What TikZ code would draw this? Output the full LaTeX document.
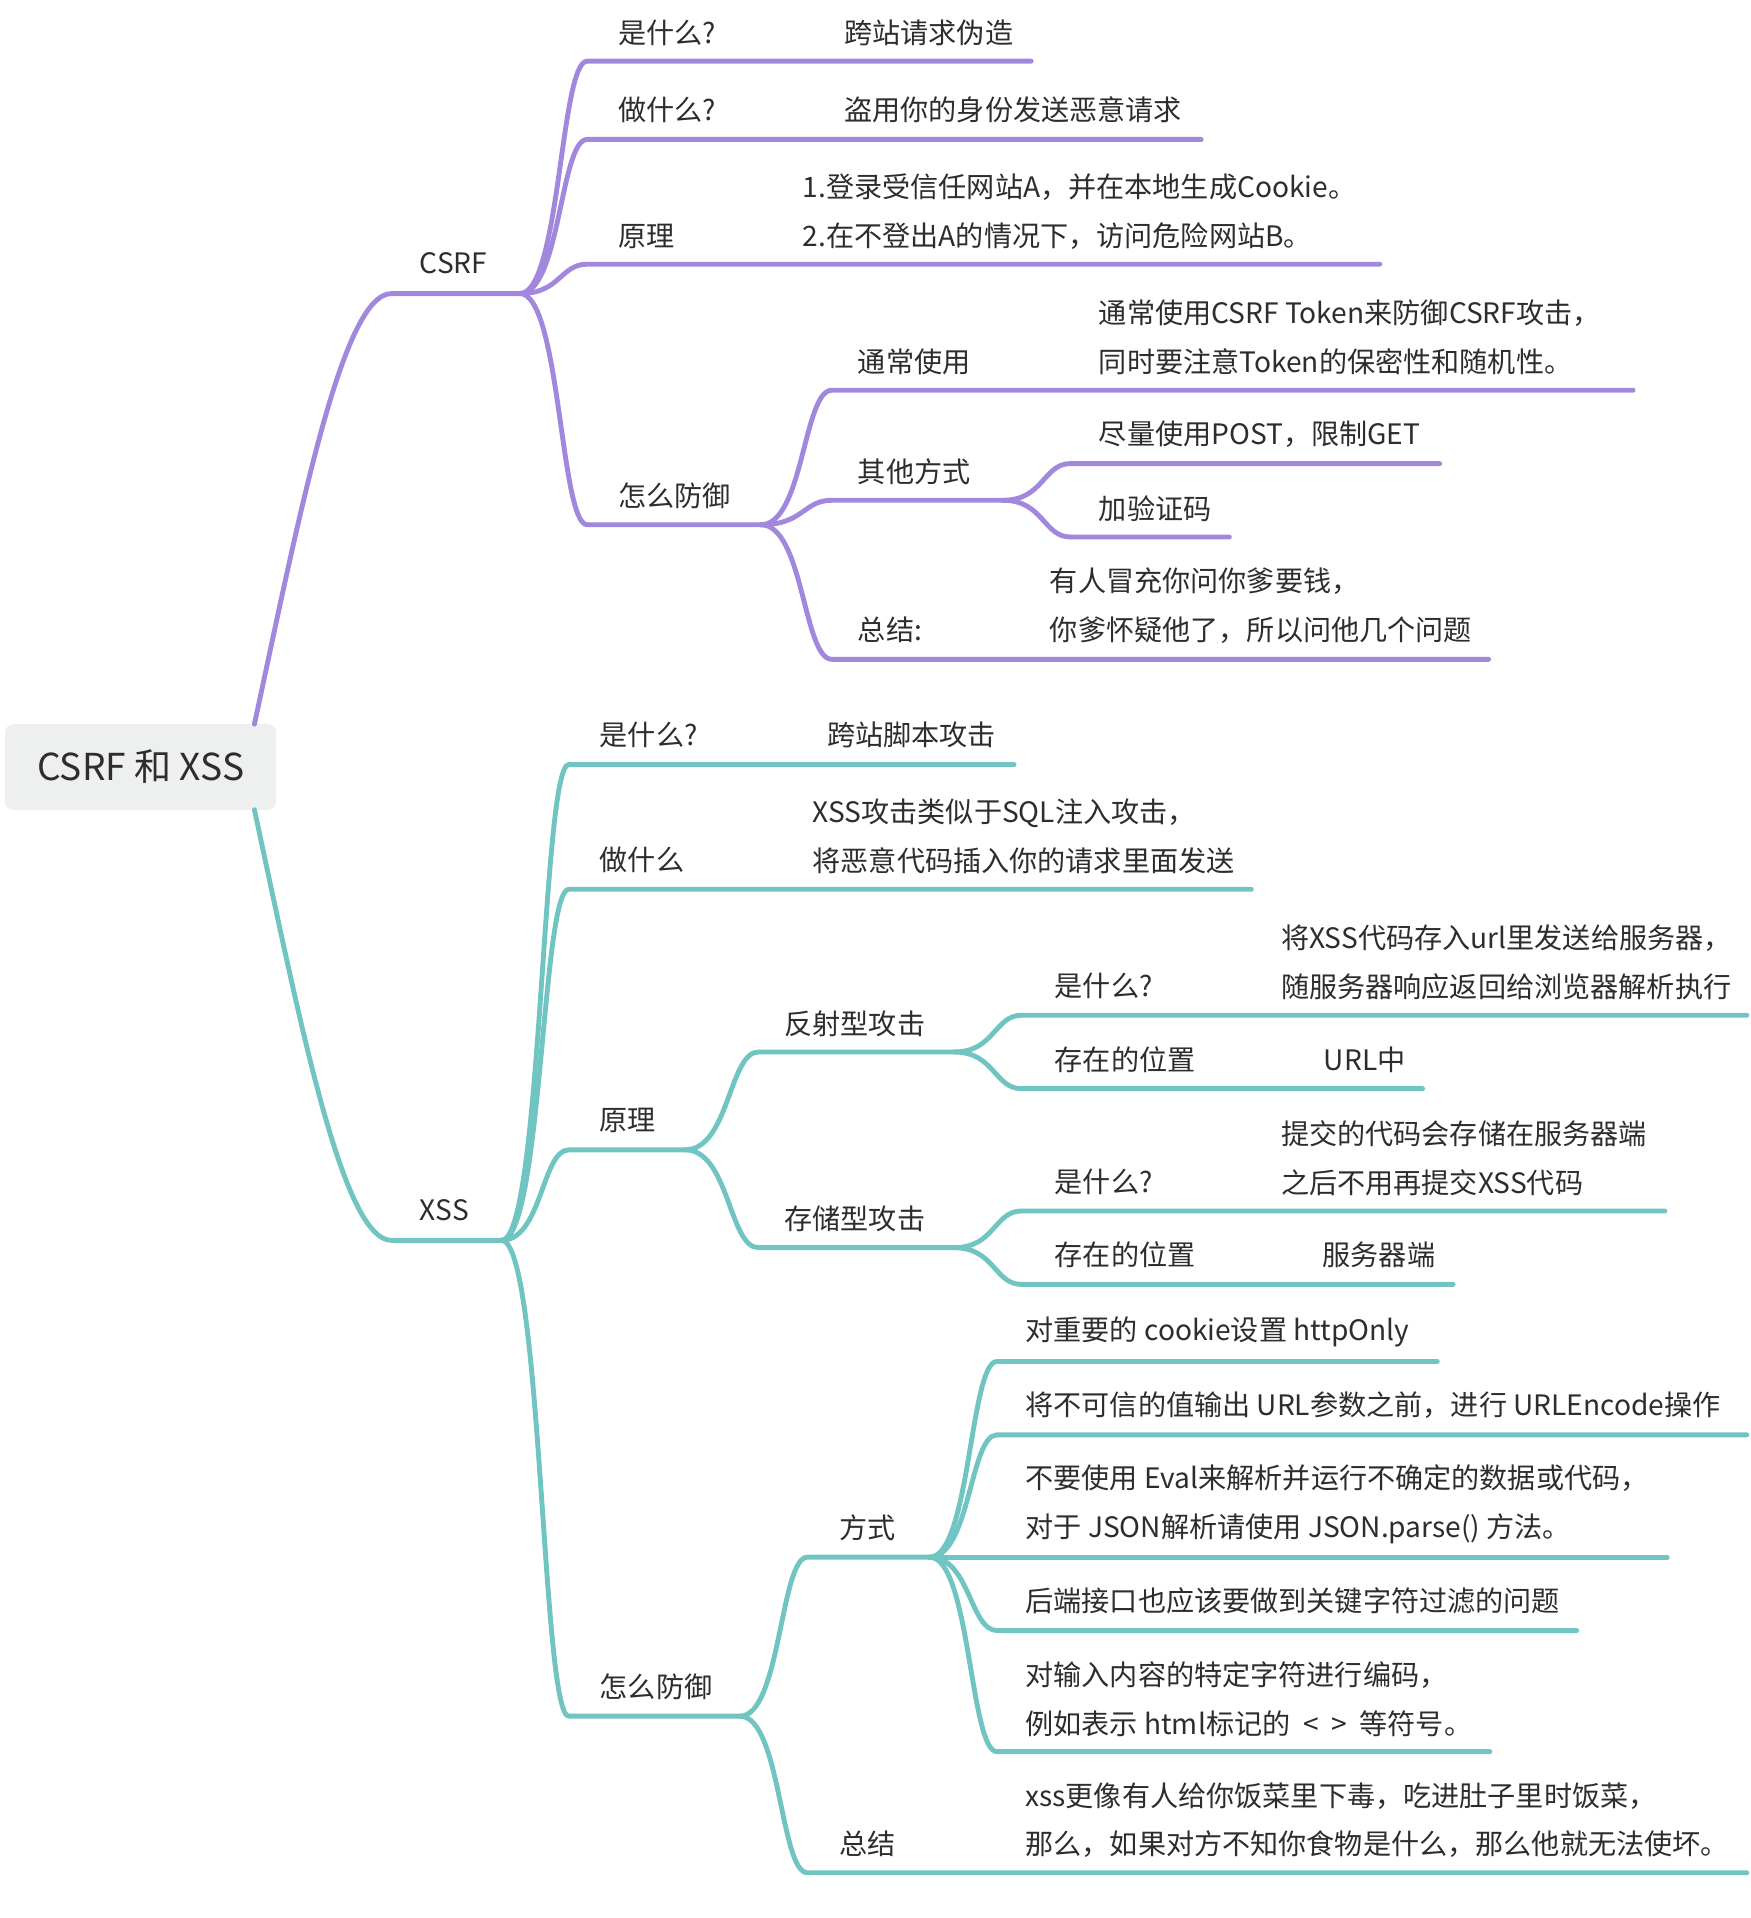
\documentclass[tikz,border=0pt]{standalone}
\usepackage{fontspec}
\setmainfont{Noto Sans CJK SC}
\usepackage{xcolor}
\usetikzlibrary{calc}
\definecolor{csrfc}{RGB}{162,136,221}
\definecolor{xssc}{RGB}{112,196,194}
\definecolor{rootbg}{RGB}{238,240,239}
\definecolor{txt}{RGB}{45,45,45}

\begin{document}
\begin{tikzpicture}[x=0.6pt, y=-0.6pt,
  lbl/.style={anchor=west, inner sep=0pt, align=left, text=txt, font=\fontsize{13.8}{24}\selectfont},
  pl/.style={draw=csrfc, line width=2.4pt, line cap=round, line join=round},
  xl/.style={draw=xssc, line width=2.4pt, line cap=round, line join=round},
  branch/.style={to path={let \p1=(\tikztostart), \p2=(\tikztotarget) in
    .. controls ({\x1+0.6*(\x2-\x1)},\y1) and ({\x1+0.6*(\x2-\x1)},\y2) .. (\tikztotarget)}}]
\useasboundingbox (0,0) rectangle (1431,1568);
\node[fill=rootbg, rounded corners=4pt, minimum width=133pt, minimum height=42pt, inner sep=0pt,
  text=txt, font=\fontsize{18.2}{22}\selectfont] (root) at (115,627) {CSRF 和 XSS};
\coordinate (rt-n) at (208,592);
\coordinate (rt-s) at (208,662);
% underline ends of every topic: name/start/end/y
\foreach \n/\xa/\xb/\y in {cs/320/425/240, cs1/480/843/50, cs2/480/982/114, cs3/480/1128/216,
  cs4/480/622/429, cs41/680/1335/319, cs42/680/820/409, cs421/875/1177/379, cs422/875/1005/439,
  cs43/680/1217/539,
  xs/320/410/1014, xs1/465/829/625, xs2/465/1023/727, xs3/465/560/940, xs31/620/780/860,
  xs311/835/1428/830, xs312/835/1163/890, xs32/620/780/1020, xs321/835/1361/990,
  xs322/835/1188/1050, xs4/465/605/1403, xs41/660/760/1273, xs411/815/1175/1113,
  xs412/815/1428/1173, xs413/815/1363/1273, xs414/815/1289/1333, xs415/815/1218/1432,
  xs42/660/1428/1531}{
  \coordinate (\n-a) at (\xa,\y);
  \coordinate (\n-b) at (\xb,\y);
}
% CSRF branch
\draw[pl] (rt-n) .. controls (245,420) and (280,240) .. (cs-a) -- (cs-b);
\foreach \c in {cs1,cs2,cs3,cs4} \draw[pl] (cs-b) to[branch] (\c-a) -- (\c-b);
\foreach \c in {cs41,cs42,cs43} \draw[pl] (cs4-b) to[branch] (\c-a) -- (\c-b);
\foreach \c in {cs421,cs422} \draw[pl] (cs42-b) to[branch] (\c-a) -- (\c-b);
% XSS branch
\draw[xl] (rt-s) .. controls (245,834) and (280,1014) .. (xs-a) -- (xs-b);
\foreach \c in {xs1,xs2,xs3,xs4} \draw[xl] (xs-b) to[branch] (\c-a) -- (\c-b);
\foreach \c in {xs31,xs32} \draw[xl] (xs3-b) to[branch] (\c-a) -- (\c-b);
\foreach \c in {xs311,xs312} \draw[xl] (xs31-b) to[branch] (\c-a) -- (\c-b);
\foreach \c in {xs321,xs322} \draw[xl] (xs32-b) to[branch] (\c-a) -- (\c-b);
\foreach \c in {xs41,xs42} \draw[xl] (xs4-b) to[branch] (\c-a) -- (\c-b);
\foreach \c in {xs411,xs412,xs413,xs414,xs415} \draw[xl] (xs41-b) to[branch] (\c-a) -- (\c-b);

% CSRF texts
\node[lbl] (t-cs) at (343,215) {CSRF};
\node[lbl] (t-cs1) at (505,27) {是什么?};
\node[lbl] (t-cs1a) at (690,27) {跨站请求伪造};
\node[lbl] (t-cs2) at (505,90) {做什么?};
\node[lbl] (t-cs2a) at (690,90) {盗用你的身份发送恶意请求};
\node[lbl] (t-cs3) at (505,193) {原理};
\node[lbl] (t-cs3a) at (656,173) {1.登录受信任网站A，并在本地生成Cookie。\\2.在不登出A的情况下，访问危险网站B。};
\node[lbl] (t-cs4) at (505,405) {怎么防御};
\node[lbl] (t-cs41) at (701,296) {通常使用};
\node[lbl] (t-cs41a) at (898,276) {通常使用CSRF Token来防御CSRF攻击，\\同时要注意Token的保密性和随机性。};
\node[lbl] (t-cs42) at (701,386) {其他方式};
\node[lbl] (t-cs421) at (898,355) {尽量使用POST，限制GET};
\node[lbl] (t-cs422) at (898,416) {加验证码};
\node[lbl] (t-cs43) at (701,515) {总结:};
\node[lbl] (t-cs43a) at (858,495) {有人冒充你问你爹要钱，\\你爹怀疑他了，所以问他几个问题};
% XSS texts
\node[lbl] (t-xs) at (343,989) {XSS};
\node[lbl] (t-xs1) at (490,601) {是什么?};
\node[lbl] (t-xs1a) at (676,601) {跨站脚本攻击};
\node[lbl] (t-xs2) at (490,703) {做什么};
\node[lbl] (t-xs2a) at (664,684) {XSS攻击类似于SQL注入攻击，\\将恶意代码插入你的请求里面发送};
\node[lbl] (t-xs3) at (490,916) {原理};
\node[lbl] (t-xs31) at (641,837) {反射型攻击};
\node[lbl] (t-xs311) at (862,806) {是什么?};
\node[lbl] (t-xs311a) at (1047,787) {将XSS代码存入url里发送给服务器，\\随服务器响应返回给浏览器解析执行};
\node[lbl] (t-xs312) at (862,866) {存在的位置};
\node[lbl] (t-xs312a) at (1082,866) {URL中};
\node[lbl] (t-xs32) at (641,996) {存储型攻击};
\node[lbl] (t-xs321) at (862,966) {是什么?};
\node[lbl] (t-xs321a) at (1047,947) {提交的代码会存储在服务器端\\之后不用再提交XSS代码};
\node[lbl] (t-xs322) at (862,1026) {存在的位置};
\node[lbl] (t-xs322a) at (1081,1026) {服务器端};
\node[lbl] (t-xs4) at (490,1379) {怎么防御};
\node[lbl] (t-xs41) at (686,1249) {方式};
\node[lbl] (t-xs411) at (838,1089) {对重要的 cookie设置 httpOnly};
\node[lbl] (t-xs412) at (838,1149) {将不可信的值输出 URL参数之前，进行 URLEncode操作};
\node[lbl] (t-xs413) at (838,1230) {不要使用 Eval来解析并运行不确定的数据或代码，\\对于 JSON解析请使用 JSON.parse() 方法。};
\node[lbl] (t-xs414) at (838,1309) {后端接口也应该要做到关键字符过滤的问题};
\node[lbl] (t-xs415) at (838,1389) {对输入内容的特定字符进行编码，\\例如表示 html标记的\hspace{0.45em}<\hspace{0.45em}>\hspace{0.45em}等符号。};
\node[lbl] (t-xs42) at (686,1507) {总结};
\node[lbl] (t-xs42a) at (838,1488) {xss更像有人给你饭菜里下毒，吃进肚子里时饭菜，\\那么，如果对方不知你食物是什么，那么他就无法使坏。};
\end{tikzpicture}
\end{document}
